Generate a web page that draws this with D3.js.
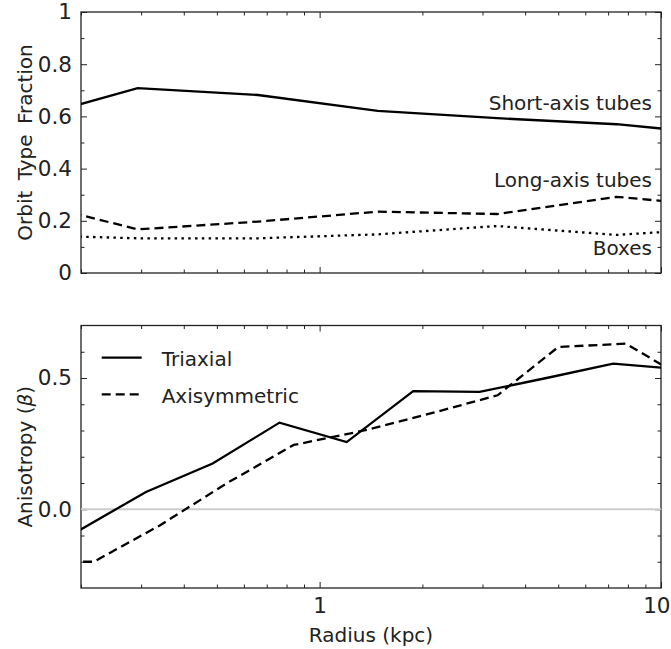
<!DOCTYPE html>
<html>
<head>
<meta charset="utf-8">
<script src="https://cdn.jsdelivr.net/npm/d3@7"></script>
<style>
	body { margin: 0; background: #fff; }
	svg { display: block; }
	text { font-family: "DejaVu Sans", sans-serif; fill: #222; }
</style>
</head>
<body>
<svg width="671" height="649"></svg>
<script>
// orbit fractions (top panel)
var fracRadius = [0.131, 0.293, 0.66, 1.48, 3.31, 7.41, 16.6];
var shortAxis = [0.581, 0.708, 0.682, 0.621, 0.593, 0.570, 0.526];
var longAxis = [0.283, 0.167, 0.197, 0.235, 0.226, 0.292, 0.250];
var boxes = [0.146, 0.133, 0.133, 0.148, 0.180, 0.146, 0.174];

// anisotropy (bottom panel)
var triRadius = [0.198, 0.31, 0.486, 0.763, 1.2, 1.88, 2.94, 4.62, 7.24, 11.4];
var triBeta = [-0.08, 0.066, 0.174, 0.33, 0.256, 0.45, 0.447, 0.50, 0.555, 0.533];
var axiRadius = [0.139, 0.218, 0.342, 0.536, 0.84, 1.35, 2.14, 3.32, 5.0, 7.89, 12.3];
var axiBeta = [-0.2, -0.2, -0.06, 0.10, 0.245, 0.30, 0.367, 0.434, 0.618, 0.631, 0.483];

// ticks
var xMajor = [1, 10];
var xMinor = [0.2, 0.3, 0.4, 0.5, 0.6, 0.7, 0.8, 0.9, 2, 3, 4, 5, 6, 7, 8, 9];
var fracMajor = [0, 0.2, 0.4, 0.6, 0.8, 1];
var fracMinor = [0.1, 0.3, 0.5, 0.7, 0.9];
var betaMajor = [0, 0.5];
var betaMinor = [-0.2, -0.1, 0.1, 0.2, 0.3, 0.4, 0.6];

var svg = d3.select('svg');
var left = 81, right = 661;

var x = d3.scaleLog().domain([0.2, 10]).range([left, right]);
var yTop = d3.scaleLinear().domain([0, 1]).range([273, 12]);
var yBot = d3.scaleLinear().domain([-0.3, 0.7]).range([588, 325.5]);

//draws frame + inward ticks for one panel
function drawPanel(y, id, yMaj, yMin, yFmt, showX){
	var top = y.range()[1], bottom = y.range()[0];

	svg.append('clipPath').attr('id', id)
		.append('rect')
		.attr('x', left).attr('y', top)
		.attr('width', right - left).attr('height', bottom - top);

	var axes = [
		[d3.axisBottom(x), 'translate(0,' + bottom + ')', xMajor, xMinor],
		[d3.axisTop(x), 'translate(0,' + top + ')', xMajor, xMinor],
		[d3.axisLeft(y), 'translate(' + left + ',0)', yMaj, yMin],
		[d3.axisRight(y), 'translate(' + right + ',0)', yMaj, yMin]
	];
	axes.forEach(function(a, i){
		// minor ticks
		svg.append('g').attr('class', 'ax').attr('transform', a[1])
			.call(a[0].tickValues(a[3]).tickSize(-3.5).tickFormat(''));
		// major ticks, labels only on bottom/left
		var fmt = '';
		if (i == 0 && showX) fmt = d3.format('d');
		if (i == 2) fmt = yFmt;
		svg.append('g').attr('class', 'ax' + (i == 0 && showX ? ' xlab' : ''))
			.attr('transform', a[1])
			.call(a[0].tickValues(a[2]).tickSize(-6).tickPadding(i == 0 ? 10 : 9).tickFormat(fmt));
	});

	svg.append('rect')
		.attr('x', left).attr('y', top)
		.attr('width', right - left).attr('height', bottom - top)
		.attr('fill', 'none')
		.attr('stroke', '#222')
		.attr('stroke-width', 1.3);
}

drawPanel(yTop, 'clipTop', fracMajor, fracMinor, function(d){ return d == 0 || d == 1 ? d : d3.format('.1f')(d); }, false);
drawPanel(yBot, 'clipBot', betaMajor, betaMinor, d3.format('.1f'), true);

svg.selectAll('.ax .domain').remove();
svg.selectAll('.ax line').attr('stroke', '#222').attr('stroke-width', 1);
svg.selectAll('.ax text').attr('font-size', 21.5).attr('fill', '#222')
	.style('font-family', '"DejaVu Sans", sans-serif');

// "10" sits on the right edge, keep it inside the window
svg.selectAll('.xlab .tick text')
	.filter(function(d){ return d == 10; })
	.attr('text-anchor', 'end')
	.attr('x', 670 - right);

// zero line
svg.append('line')
	.attr('x1', left).attr('x2', right)
	.attr('y1', yBot(0)).attr('y2', yBot(0))
	.attr('stroke', '#cccccc')
	.attr('stroke-width', 2);

function addLine(xs, ys, y, clip, dash){
	var pts = xs.map(function(d, i){ return [d, ys[i]]; });
	var line = d3.line()
		.x(function(d){ return x(d[0]); })
		.y(function(d){ return y(d[1]); });
	svg.append('path')
		.datum(pts)
		.attr('d', line)
		.attr('clip-path', 'url(#' + clip + ')')
		.attr('fill', 'none')
		.attr('stroke', '#000')
		.attr('stroke-width', 2.3)
		.attr('stroke-dasharray', dash);
}

addLine(fracRadius, shortAxis, yTop, 'clipTop', null);
addLine(fracRadius, longAxis, yTop, 'clipTop', '9,5');
addLine(fracRadius, boxes, yTop, 'clipTop', '2.5,4.3');
addLine(triRadius, triBeta, yBot, 'clipBot', null);
addLine(axiRadius, axiBeta, yBot, 'clipBot', '9,5');

// curve labels
var curveLabels = [['Short-axis tubes', 110], ['Long-axis tubes', 186.7], ['Boxes', 255]];
svg.selectAll('.clabel')
	.data(curveLabels)
	.enter()
	.append('text')
	.attr('x', 652)
	.attr('y', function(d){ return d[1]; })
	.attr('text-anchor', 'end')
	.attr('font-size', 20)
	.text(function(d){ return d[0]; });

// legend
var legend = [['Triaxial', null, 357.7], ['Axisymmetric', '9,5', 394.3]];
legend.forEach(function(l){
	svg.append('line')
		.attr('x1', 101.7).attr('x2', 141.7)
		.attr('y1', l[2]).attr('y2', l[2])
		.attr('stroke', '#000')
		.attr('stroke-width', 2.3)
		.attr('stroke-dasharray', l[1]);
	svg.append('text')
		.attr('x', 161.7)
		.attr('y', l[2] + 8.5)
		.attr('font-size', 20)
		.text(l[0]);
});

// axis titles
svg.append('text')
	.attr('transform', 'translate(32,' + (12 + 273) / 2 + ') rotate(-90)')
	.attr('text-anchor', 'middle')
	.attr('font-size', 20)
	.attr('word-spacing', 4)
	.text('Orbit Type Fraction');

var aniso = svg.append('text')
	.attr('transform', 'translate(32,' + (325.5 + 588) / 2 + ') rotate(-90)')
	.attr('text-anchor', 'middle')
	.attr('font-size', 20);
aniso.append('tspan').text('Anisotropy (');
aniso.append('tspan').attr('font-style', 'italic').text('β');
aniso.append('tspan').text(')');

svg.append('text')
	.attr('x', (left + right) / 2)
	.attr('y', 641.5)
	.attr('text-anchor', 'middle')
	.attr('font-size', 20)
	.text('Radius (kpc)');
</script>
</body>
</html>
